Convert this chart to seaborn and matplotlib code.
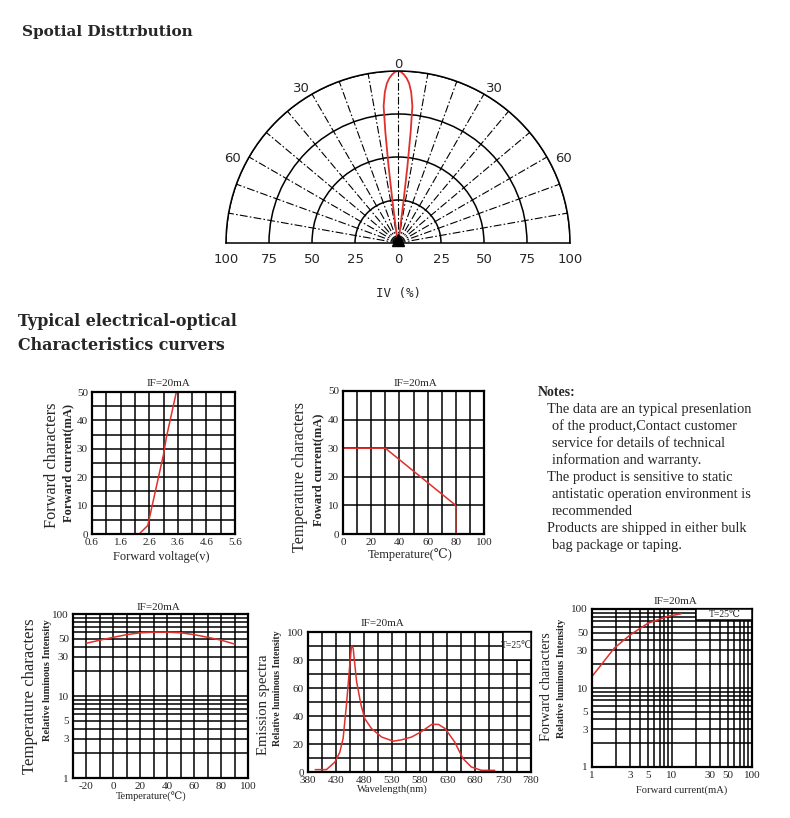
import numpy as np
import pandas as pd
import seaborn as sns
import matplotlib.pyplot as plt
from matplotlib.patches import Rectangle
from matplotlib.ticker import MultipleLocator, FixedLocator, LogLocator, NullFormatter

# ---- data ----
# spatial distribution, one half of the lobe (mirrored below)
beam_angle = [0, 1, 2, 3, 4, 5, 6, 6.5, 7, 7.5, 8, 9, 10]
beam_iv = [100, 99.5, 98, 96, 93, 88, 80, 65, 45, 25, 12, 4, 0]

# forward voltage vs forward current
vf_volt = [2.25, 2.55, 3.1, 3.2, 3.55]
vf_curr = [0, 3, 28, 34, 50]

# derating curve
derate_temp = [0, 30, 80, 80]
derate_curr = [30, 30, 10, 0]

# ambient temperature vs relative intensity
temp_c = [-20, -10, 0, 10, 20, 30, 40, 50, 60, 70, 80, 90]
temp_iv = [44, 48, 52, 56, 59, 60, 60, 59, 56, 52, 48, 43]

# emission spectrum
wl = [393, 413, 428, 437, 443, 449, 454, 458, 461, 467, 475, 482, 494, 512,
      533, 548, 566, 584, 602, 614, 626, 643, 658, 673, 691, 715]
spec = [1.7, 1.7, 7, 14, 24, 48, 72, 90, 88.5, 65, 48, 38, 31, 25,
        22, 23, 25, 29, 34, 34, 31, 21.5, 9.6, 3.6, 1.2, 1.2]

# forward current vs relative intensity
if_ma = [1, 1.3, 1.9, 3, 5, 9, 13]
if_iv = [14, 19.6, 32, 47, 66, 81, 87]

notes = ["The data are an typical presenlation",
         " of the product,Contact customer",
         " service for details of technical",
         " information and warranty.",
         "The product is sensitive to static",
         " antistatic operation environment is",
         " recommended",
         "Products are shipped in either bulk",
         " bag package or taping."]

log_ticks = [1, 3, 5, 10, 30, 50, 100]

sns.set_style("white")
plt.rcParams['font.family'] = ['Liberation Serif', 'DejaVu Serif']
plt.rcParams['axes.unicode_minus'] = False

W, H = 790, 818
RED = '#e0302c'
fig = plt.figure(figsize=(W / 100, H / 100), dpi=100)


def box(l, t, r, b, **kw):
    return fig.add_axes([l / W, 1 - b / H, (r - l) / W, (b - t) / H], **kw)


def ftext(x, y, s, **kw):
    fig.text(x / W, 1 - y / H, s, **kw)


def style(ax):
    ax.grid(True, which='both', color='black', lw=1.1)
    for s in ax.spines.values():
        s.set_linewidth(1.6)
        s.set_color('black')
    ax.tick_params(which='both', length=0, labelsize=8, pad=3)
    ax.set_xlabel('')
    ax.set_ylabel('')


def ylabels(x1, y1, s1, f1, x2, y2, s2, f2):
    ftext(x1, y1, s1, rotation=90, ha='center', va='center', fontsize=f1)
    ftext(x2, y2, s2, rotation=90, ha='center', va='center', fontsize=f2,
          fontweight='bold')


# ---- titles ----
tfont = dict(fontweight='bold', va='center', family='DejaVu Serif')
ftext(22, 32, "Spotial Disttrbution", fontsize=11, **tfont)
ftext(18, 322, "Typical electrical-optical", fontsize=11.4, **tfont)
ftext(18, 346, "Characteristics curvers", fontsize=11.4, **tfont)

# ---- polar spatial distribution ----
# square axes box; the half-disc is centred vertically inside it
pax = box(226, -15, 570, 329, projection='polar')
pax.set_theta_zero_location('N')
pax.set_theta_direction(-1)
pax.set_thetamin(-90)
pax.set_thetamax(90)
pax.set_ylim(0, 100)
pax.set_thetagrids(range(-90, 91, 10), labels=[''] * 19)
pax.set_rgrids([25, 50, 75, 100], labels=[''] * 4)
pax.xaxis.grid(True, color='black', lw=0.8, ls=(0, (7, 2, 1.5, 2)))
pax.yaxis.grid(True, color='black', lw=1.1, ls='-')
for s in pax.spines.values():
    s.set_linewidth(1.1)
    s.set_color('black')

full_ang = [-a for a in beam_angle[::-1]] + beam_angle[1:]
full_iv = beam_iv[::-1] + beam_iv[1:]
lobe = pd.DataFrame({'theta': np.deg2rad(full_ang), 'iv': full_iv})
sns.lineplot(data=lobe, x='theta', y='iv', ax=pax, sort=False, estimator=None,
             color=RED, lw=1.3)
pax.plot([0], [2], marker='^', color='black', ms=8, clip_on=False)
pax.set_xlabel('')
pax.set_ylabel('')
for a, rr in [(-63, 108), (-32, 106), (0, 104), (32, 106), (63, 108)]:
    pax.text(np.deg2rad(a), rr, str(abs(round(a / 30) * 30)), ha='center',
             va='center', fontsize=9.5, family='DejaVu Sans')
for side in [-90, 90]:
    for r in [100, 75, 50, 25]:
        pax.annotate(str(r), xy=(np.deg2rad(side), r), xytext=(0, -7),
                     textcoords='offset points', ha='center', va='top',
                     fontsize=9.5, family='DejaVu Sans', annotation_clip=False)
pax.annotate('0', xy=(0, 0), xytext=(0, -7), textcoords='offset points',
             ha='center', va='top', fontsize=9.5, family='DejaVu Sans')
ftext(398, 293, "IV (%)", ha='center', va='center', fontsize=9, family='DejaVu Sans Mono')

# ---- forward voltage ----
ax1 = box(92, 392, 235, 534)
sns.lineplot(x=vf_volt, y=vf_curr, ax=ax1, sort=False, estimator=None, color=RED, lw=1.1)
ax1.set_xlim(0.6, 5.6)
ax1.set_ylim(0, 50)
ax1.set_xticks(np.arange(0.6, 5.7, 1.0), labels=['0.6', '1.6', '2.6', '3.6', '4.6', '5.6'])
ax1.xaxis.set_minor_locator(FixedLocator(np.arange(0.6, 5.61, 0.5)))
ax1.yaxis.set_major_locator(MultipleLocator(10))
ax1.yaxis.set_minor_locator(MultipleLocator(5))
style(ax1)
ftext(168, 384, "IF=20mA", ha='center', va='center', fontsize=8)
ylabels(52, 465, "Forward characters", 11.7, 68, 463, "Forward current(mA)", 9)
ftext(161, 557, "Forward voltage(v)", ha='center', va='center', fontsize=9)

# ---- derating ----
ax2 = box(343, 391, 484, 534)
sns.lineplot(x=derate_temp, y=derate_curr, ax=ax2, sort=False, estimator=None,
             color=RED, lw=1.1)
ax2.set_xlim(0, 100)
ax2.set_ylim(0, 50)
ax2.xaxis.set_major_locator(MultipleLocator(20))
ax2.xaxis.set_minor_locator(MultipleLocator(10))
ax2.yaxis.set_major_locator(MultipleLocator(10))
style(ax2)
ftext(415, 384, "IF=20mA", ha='center', va='center', fontsize=8)
ylabels(300, 477, "Temperature characters", 11.6, 318, 470, "Foward current(mA)", 9)
ftext(410, 555, "Temperature(℃)", ha='center', va='center', fontsize=9)

# ---- notes ----
ftext(538, 393, "Notes:", fontsize=10, fontweight='bold', va='center')
for i, line in enumerate(notes):
    x = 547 if not line.startswith(' ') else 552
    ftext(x, 409 + i * 17.1, line.strip(), fontsize=10.4, va='center')


def log_y(ax):
    ax.set_yscale('log')
    ax.set_ylim(1, 100)
    ax.set_yticks(log_ticks, labels=[str(v) for v in log_ticks])
    ax.yaxis.set_minor_locator(LogLocator(base=10, subs=np.arange(2, 10)))
    ax.yaxis.set_minor_formatter(NullFormatter())


# ---- temperature vs intensity ----
ax3 = box(73, 614, 248, 778)
sns.lineplot(x=temp_c, y=temp_iv, ax=ax3, sort=False, estimator=None, color=RED, lw=1.1)
ax3.set_xlim(-30, 100)
log_y(ax3)
ax3.set_xticks(range(-20, 101, 20))
ax3.xaxis.set_minor_locator(MultipleLocator(10))
style(ax3)
ftext(158, 607, "IF=20mA", ha='center', va='center', fontsize=8)
ylabels(30, 696, "Temperature characters", 12.1, 47, 680, "Relative luminous Intensity", 7.5)
ftext(151, 797, "Temperature(℃)", ha='center', va='center', fontsize=7.5)

# ---- emission spectrum ----
ax4 = box(308, 632, 531, 772)
sns.lineplot(x=wl, y=spec, ax=ax4, sort=False, estimator=None, color=RED, lw=1.1)
ax4.set_xlim(380, 780)
ax4.set_ylim(0, 100)
ax4.set_xticks(range(380, 781, 50))
ax4.xaxis.set_minor_locator(FixedLocator(range(380, 781, 25)))
ax4.yaxis.set_major_locator(MultipleLocator(20))
ax4.yaxis.set_minor_locator(MultipleLocator(10))
style(ax4)
ax4.add_patch(Rectangle((730, 80), 50, 20, fc='white', ec='black', lw=1.1, zorder=3))
ax4.text(755, 90, "T=25℃", ha='center', va='center', fontsize=7, zorder=4)
ftext(382, 623, "IF=20mA", ha='center', va='center', fontsize=8)
ylabels(263, 705, "Emission spectra", 10.6, 277, 688, "Relative luminous Intensity", 7.1)
ftext(392, 789, "Wavelength(nm)", ha='center', va='center', fontsize=7.6)

# ---- forward current vs intensity ----
ax5 = box(592, 609, 752, 767)
sns.lineplot(x=if_ma, y=if_iv, ax=ax5, sort=False, estimator=None, color=RED, lw=1.1)
ax5.set_xscale('log')
ax5.set_xlim(1, 100)
ax5.set_xticks(log_ticks, labels=[str(v) for v in log_ticks])
ax5.xaxis.set_minor_locator(LogLocator(base=10, subs=np.arange(2, 10)))
ax5.xaxis.set_minor_formatter(NullFormatter())
log_y(ax5)
style(ax5)
ax5.add_patch(Rectangle((20, 72), 80, 28, fc='white', ec='black', lw=1.1, zorder=3))
ax5.text(45, 85, "T=25℃", ha='center', va='center', fontsize=7, zorder=4)
ftext(675, 602, "IF=20mA", ha='center', va='center', fontsize=8)
ylabels(547, 687, "Forward characters", 10.2, 562, 678, "Relative luminous Intensity", 7.3)
ftext(682, 790, "Forward current(mA)", ha='center', va='center', fontsize=7.6)

fig.savefig("out.png", dpi=100, facecolor='white')
